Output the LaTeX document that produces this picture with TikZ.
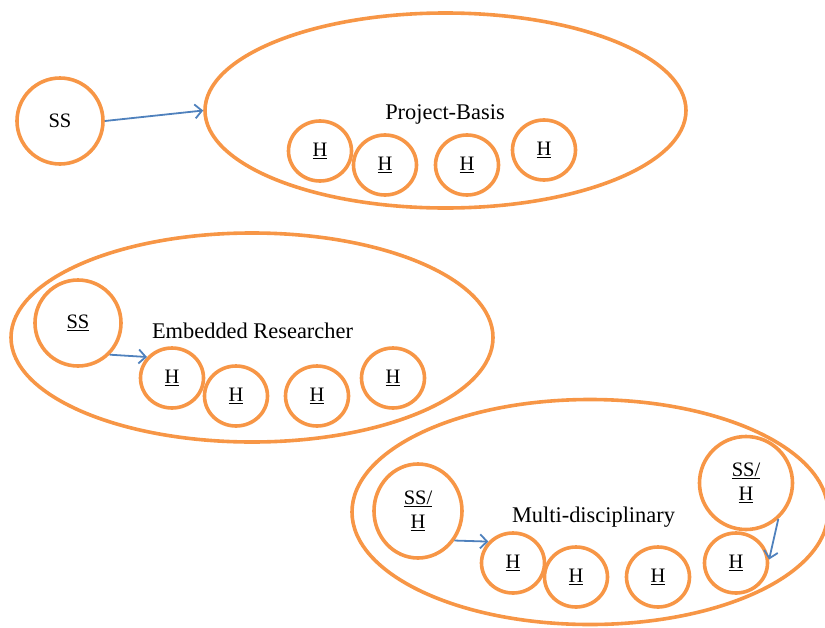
\documentclass[tikz,border=0pt]{standalone}
\usepackage{fontspec}
\setmainfont{Liberation Serif}
\usetikzlibrary{shapes.geometric,arrows.meta}
\definecolor{borange}{RGB}{247,150,70}
\definecolor{bblue}{RGB}{79,129,189}
\tikzset{
  big/.style={ellipse,draw=borange,line width=3.6pt,inner sep=0pt},
  hc/.style={ellipse,draw=borange,line width=3.6pt,inner sep=0pt,minimum width=63pt,minimum height=60pt,font=\fontsize{20.5}{24}\selectfont},
  sc/.style={ellipse,draw=borange,line width=3.6pt,inner sep=0pt,minimum width=86pt,minimum height=86pt,font=\fontsize{20.5}{24}\selectfont,align=center},
  lbl/.style={font=\fontsize{22.4}{26}\selectfont,inner sep=0pt,anchor=base},
  arr/.style={draw=bblue,line width=1.8pt,-{Straight Barb[length=7pt,width=14pt,line width=1.8pt]}}
}
\begin{document}
\begin{tikzpicture}[x=1pt,y=1pt]
\useasboundingbox (0,0) rectangle (825,-627);
% Project-Basis
\node[big,minimum width=481pt,minimum height=195pt] (pb) at (445.5,-110.5) {};
\node[lbl] (pbl) at (445,-119) {Project-Basis};
\node[sc] (ss1) at (60,-121) {SS};
\node[hc] (h11) at (320,-151) {\underline{H}};
\node[hc] (h12) at (385,-165) {\underline{H}};
\node[hc] (h13) at (467,-165) {\underline{H}};
\node[hc] (h14) at (544,-150) {\underline{H}};
\draw[arr] (ss1.east) -- (pb.west);
% Embedded Researcher
\node[big,minimum width=482pt,minimum height=209pt] (er) at (252,-337.5) {};
\node[lbl] (erl) at (252.5,-338) {Embedded Researcher};
\node[sc] (ss2) at (78,-323) {\underline{SS}};
\node[hc] (h21) at (172,-378) {\underline{H}};
\node[hc] (h22) at (236,-396) {\underline{H}};
\node[hc] (h23) at (317,-396) {\underline{H}};
\node[hc] (h24) at (393,-378) {\underline{H}};
\draw[arr] (ss2.-45) -- (h21.140);
% Multi-disciplinary
\node[big,minimum width=476pt,minimum height=225pt] (md) at (590,-512) {};
\node[lbl] (mdl) at (593.5,-522) {Multi-disciplinary};
\node[sc,minimum width=88pt,minimum height=94pt] (ss3) at (418,-511) {\underline{SS/}\\\underline{H}};
\node[sc,minimum width=93pt,minimum height=93pt] (ss4) at (746,-483) {\underline{SS/}\\\underline{H}};
\node[hc] (h31) at (513,-563) {\underline{H}};
\node[hc] (h32) at (576,-577) {\underline{H}};
\node[hc] (h33) at (658,-577) {\underline{H}};
\node[hc] (h34) at (736,-563) {\underline{H}};
\draw[arr] (ss3.-39) -- (h31.139);
\draw[arr] (ss4.-48) -- (h34.6);
\end{tikzpicture}
\end{document}
